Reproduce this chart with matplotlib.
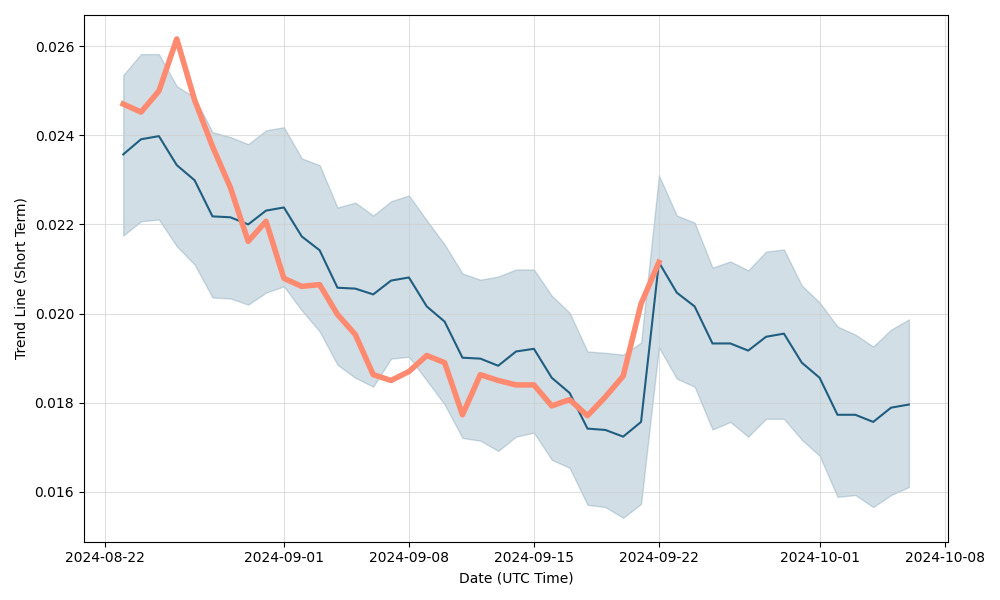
import matplotlib

matplotlib.use("Agg")
import matplotlib.pyplot as plt
import pandas as pd

AZUL = "#1f5e80"
NARANJA = "#ff8a70"

fechas = pd.date_range("2024-08-23", "2024-10-06", freq="D")
fechas_precio = fechas[:31]

tendencia = [
    0.02357, 0.02391, 0.02398, 0.02333, 0.02299, 0.02218, 0.02216, 0.02200,
    0.02231, 0.02238, 0.02173, 0.02142, 0.02058, 0.02056, 0.02043, 0.02074,
    0.02081, 0.02016, 0.01982, 0.01901, 0.01899, 0.01883, 0.01915, 0.01921,
    0.01856, 0.01822, 0.01742, 0.01739, 0.01724, 0.01757, 0.02115, 0.02047,
    0.02016, 0.01933, 0.01933, 0.01917, 0.01948, 0.01955, 0.01890, 0.01856,
    0.01773, 0.01773, 0.01757, 0.01789, 0.01796,
]
banda_sup = [
    0.02535, 0.02582, 0.02582, 0.02510, 0.02485, 0.02407, 0.02396, 0.02380,
    0.02411, 0.02418, 0.02348, 0.02333, 0.02238, 0.02249, 0.02220, 0.02252,
    0.02265, 0.02209, 0.02155, 0.02090, 0.02076, 0.02083, 0.02099, 0.02099,
    0.02040, 0.02002, 0.01915, 0.01912, 0.01908, 0.01935, 0.02310, 0.02220,
    0.02204, 0.02103, 0.02117, 0.02097, 0.02139, 0.02144, 0.02063, 0.02025,
    0.01971, 0.01953, 0.01926, 0.01964, 0.01987,
]
banda_inf = [
    0.02175, 0.02207, 0.02211, 0.02151, 0.02110, 0.02036, 0.02034, 0.02020,
    0.02047, 0.02061, 0.02007, 0.01960, 0.01885, 0.01856, 0.01836, 0.01899,
    0.01903, 0.01850, 0.01796, 0.01721, 0.01715, 0.01692, 0.01724, 0.01733,
    0.01672, 0.01654, 0.01571, 0.01566, 0.01542, 0.01573, 0.01924, 0.01854,
    0.01836, 0.01740, 0.01757, 0.01724, 0.01764, 0.01764, 0.01717, 0.01681,
    0.01589, 0.01593, 0.01566, 0.01593, 0.01611,
]
precio = [
    0.02470, 0.02452, 0.02499, 0.02616, 0.02479, 0.02375, 0.02283, 0.02162,
    0.02207, 0.02079, 0.02061, 0.02065, 0.01998, 0.01953, 0.01863, 0.01850,
    0.01870, 0.01906, 0.01890, 0.01773, 0.01863, 0.01850, 0.01840, 0.01840,
    0.01793, 0.01807, 0.01771, 0.01813, 0.01860, 0.02022, 0.02115,
]

fig, ax = plt.subplots(figsize=(10, 6), dpi=100)
ax.fill_between(fechas, banda_inf, banda_sup, color=AZUL, alpha=0.2)
ax.plot(fechas, tendencia, color=AZUL, lw=1.5)
ax.plot(fechas_precio, precio, color=NARANJA, lw=4)
ax.grid(True, color="#cccccc", alpha=0.6)
ax.set_xlabel("Date (UTC Time)")
ax.set_ylabel("Trend Line (Short Term)")
fig.tight_layout()
fig.savefig("out.png")
